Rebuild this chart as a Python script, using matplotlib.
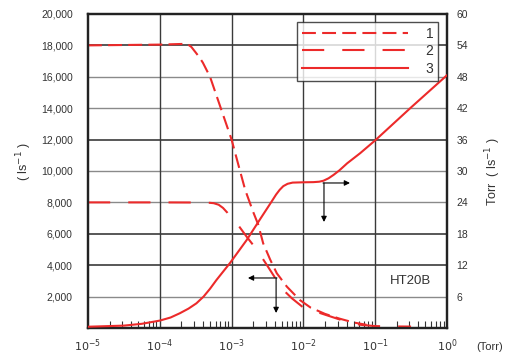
import matplotlib
matplotlib.use("Agg")
import matplotlib.pyplot as plt
import numpy as np
from matplotlib.ticker import FixedLocator, NullFormatter

plt.rcParams['font.family'] = ['Liberation Sans', 'DejaVu Sans']
plt.rcParams['lines.scale_dashes'] = False

# Data (x as log10 Torr)
c1_logx = [-5, -4.0, -3.7, -3.62, -3.56, -3.5, -3.45, -3.4, -3.3, -3.15, -3.0, -2.9, -2.81, -2.70,
           -2.63, -2.56, -2.46, -2.37, -2.23, -2.05, -1.9, -1.7, -1.5, -1.3, -1.12]
c1_y = [18000, 18050, 18090, 18100, 17900, 17550, 17250, 16900, 16000, 14000, 12000, 10300, 8790, 7400,
        6600, 5393, 4331, 3484, 2633, 1783, 1300, 900, 600, 350, 200]

c2_logx = [-5, -4.0, -3.35, -3.25, -3.18, -3.12, -3.06, -3.02, -2.9, -2.79, -2.70, -2.60, -2.5, -2.39,
           -2.28, -2.16, -2.0, -1.8, -1.6, -1.4, -1.2, -1.0, -0.8, -0.5]
c2_y = [8000, 8000, 7990, 7950, 7850, 7650, 7350, 7100, 6500, 5815, 5287, 4650, 3950, 3166,
        2420, 1890, 1300, 1000, 700, 400, 200, 120, 100, 90]

c3_logx = [-5, -4.5, -4.25, -4.0, -3.85, -3.72, -3.6, -3.49, -3.39, -3.3, -3.21, -3.02, -2.79, -2.6,
           -2.45, -2.38, -2.33, -2.28, -2.22, -2.15, -2.0, -1.86, -1.78, -1.72, -1.65, -1.58,
           -1.5, -1.39, -1.21, -1.0, -0.5, 0]
c3_y = [0.24, 0.45, 0.8, 1.41, 2.0, 2.82, 3.7, 4.71, 6.0, 7.5, 9.18, 12.45, 16.8, 20.85,
        24.0, 25.5, 26.4, 27.1, 27.55, 27.78, 27.84, 27.87, 27.95, 28.14, 28.6, 29.25,
        30.1, 31.47, 33.39, 35.85, 42.15, 48.3]

left_ticks = [2000, 4000, 6000, 8000, 10000, 12000, 14000, 16000, 18000, 20000]
left_labels = ['2,000', '4,000', '6,000', '8,000', '10,000', '12,000', '14,000', '16,000', '18,000', '20,000']
right_ticks = [6, 12, 18, 24, 30, 36, 42, 48, 54, 60]
x_ticks = [1e-5, 1e-4, 1e-3, 1e-2, 1e-1, 1e0]
x_labels = [r'$10^{-5}$', r'$10^{-4}$', r'$10^{-3}$', r'$10^{-2}$', r'$10^{-1}$', r'$10^{0}$']
legend_labels = ['1', '2', '3']

red = '#ec2a2a'
fig = plt.figure(figsize=(5.13, 3.56), dpi=100)
ax = fig.add_axes([0.1715, 0.0787, 0.6998, 0.882])
ax.set_xscale('log')
ax.set_xlim(1e-5, 1)
ax.set_ylim(0, 20000)

# grid
dark = {4000, 6000, 12000, 18000}
for t in left_ticks[:-1]:
    if t in dark:
        ax.axhline(t, color='#2a2a2a', lw=1.1, zorder=1)
    else:
        ax.axhline(t, color='#8a8a8a', lw=1.0, zorder=1)
for xv in x_ticks[1:-1]:
    ax.axvline(xv, color='#3a3a3a', lw=1.0, zorder=1)

l1, = ax.plot(10 ** np.array(c1_logx), c1_y, color=red, lw=1.5, dashes=(10, 4.5), zorder=3,
              solid_joinstyle='round', dash_joinstyle='round')
l2, = ax.plot(10 ** np.array(c2_logx), c2_y, color=red, lw=1.5, dashes=(16, 13), zorder=3,
              solid_joinstyle='round', dash_joinstyle='round')

ax2 = ax.twinx()
ax2.set_ylim(0, 60)
l3, = ax2.plot(10 ** np.array(c3_logx), c3_y, color=red, lw=1.5, zorder=3,
               solid_joinstyle='round')

# ticks
ax.set_xticks(x_ticks)
ax.set_xticklabels(x_labels)
minor = [m * 10.0 ** d for d in range(-5, 0) for m in range(2, 10)]
ax.xaxis.set_minor_locator(FixedLocator(minor))
ax.xaxis.set_minor_formatter(NullFormatter())
ax.tick_params(axis='x', which='major', direction='in', length=0, pad=7, labelsize=8, colors='#333333')
ax.tick_params(axis='x', which='minor', direction='in', length=5, width=0.8, color='#333333')
ax.set_yticks(left_ticks)
ax.set_yticklabels(left_labels)
ax.tick_params(axis='y', length=0, pad=11, labelsize=7.5, colors='#333333')
ax2.set_yticks(right_ticks)
ax2.tick_params(axis='y', length=0, pad=7, labelsize=7.5, colors='#333333')
for a in (ax, ax2):
    for s in a.spines.values():
        s.set_linewidth(1.6)
        s.set_color('#222222')

# arrows
def arrow(x0, y0, x1, y1):
    ax.annotate('', xy=(x1, y1), xytext=(x0, y0),
                arrowprops=dict(arrowstyle='-|>', color='black', lw=0.8,
                                mutation_scale=8, shrinkA=0, shrinkB=0), zorder=4)

arrow(10 ** -2.368, 3185, 10 ** -2.772, 3185)
arrow(10 ** -2.38, 3185, 10 ** -2.38, 955)
arrow(10 ** -1.727, 9236, 10 ** -1.351, 9236)
arrow(10 ** -1.713, 9236, 10 ** -1.713, 6752)

ax.text(0.897, 0.15, 'HT20B', transform=ax.transAxes, ha='center', va='center',
        fontsize=9.5, color='#333333')

leg = ax2.legend([l1, l2, l3], legend_labels, loc='upper right',
                 bbox_to_anchor=(0.976, 0.975), fontsize=10, frameon=True,
                 fancybox=False, edgecolor='#222222', handlelength=7.6,
                 labelspacing=0.25, borderpad=0.35, handletextpad=1.3,
                 borderaxespad=0, markerfirst=True)
leg.get_frame().set_linewidth(1.0)
for t in leg.get_texts():
    t.set_color('#333333')

fig.text(24 / 513, 1 - 162 / 356, r'( ls$^{-1}$ )', rotation=90, ha='center', va='center',
         fontsize=9, color='#333333')
fig.text(493 / 513, 1 - 172 / 356, r'Torr  ( ls$^{-1}$ )', rotation=90, ha='center', va='center',
         fontsize=9, color='#333333')
fig.text(490 / 513, 1 - 347 / 356, '(Torr)', ha='center', va='center', fontsize=8, color='#333333')

fig.savefig('out.png', dpi=100, facecolor='white')
